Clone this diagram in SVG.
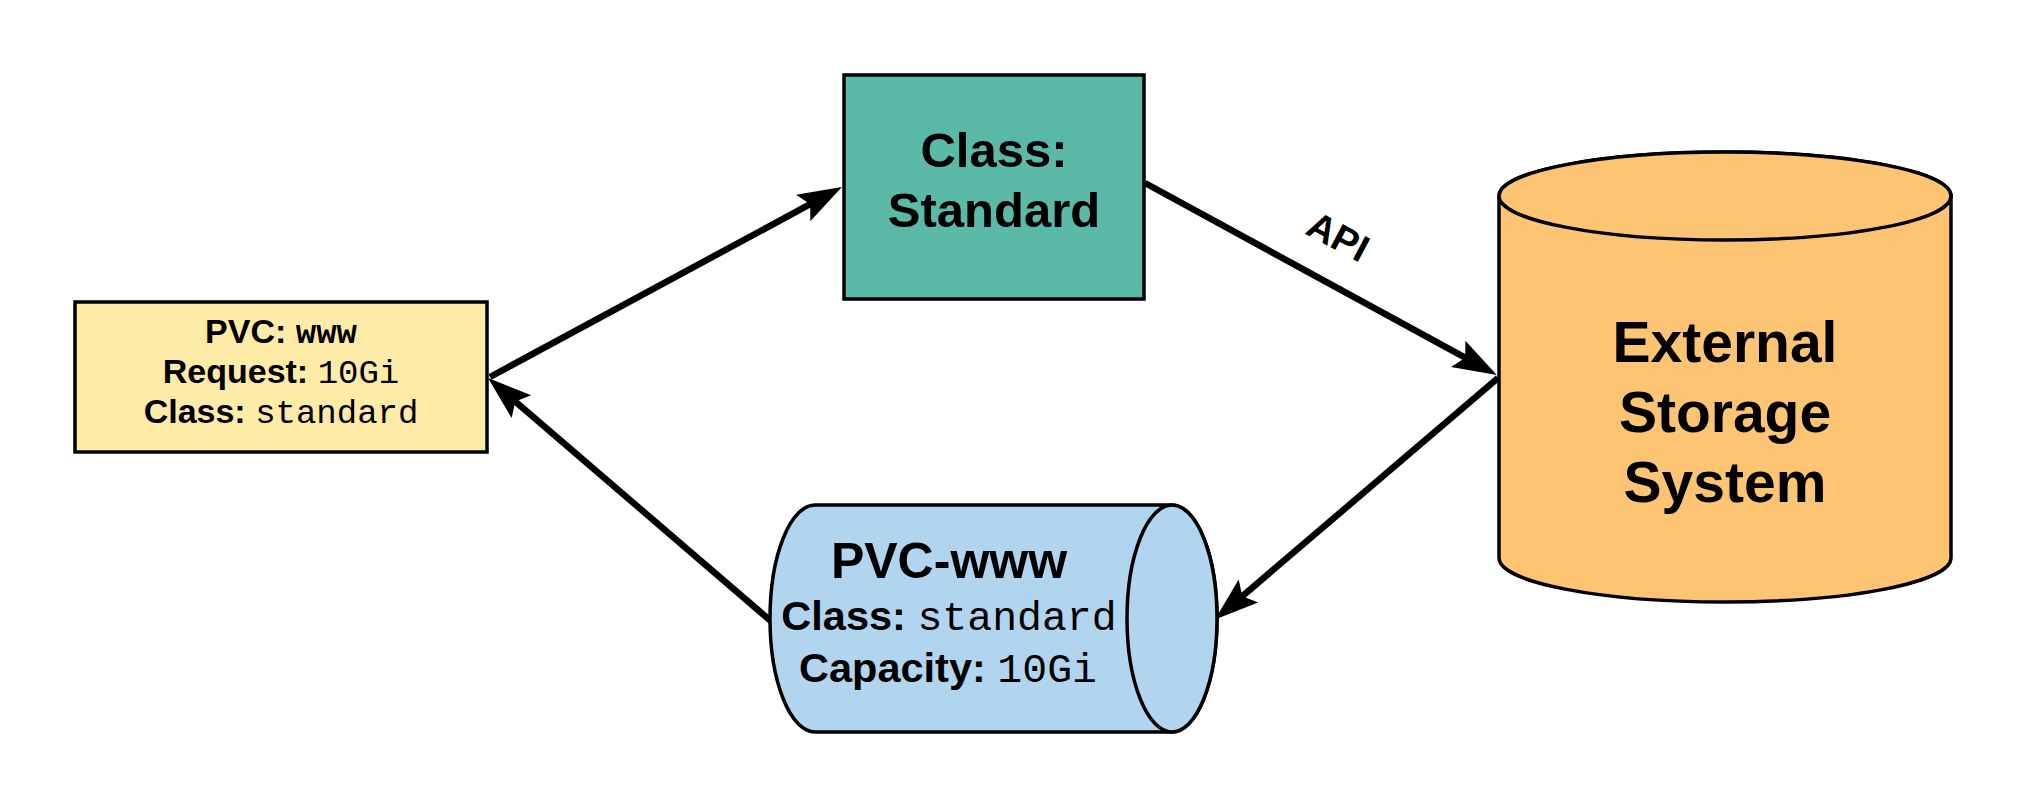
<svg xmlns="http://www.w3.org/2000/svg" width="2025" height="806" viewBox="0 0 2025 806">
  <style>
    .sans { font-family: "Liberation Sans", Arial, sans-serif; font-weight: bold; fill: #000; }
    .mono { font-family: "Liberation Mono", "Courier New", monospace; font-weight: normal; }
    .monob { font-family: "Liberation Mono", "Courier New", monospace; font-weight: bold; }
    .edge { stroke: #000; stroke-width: 6.5; fill: none; marker-end: url(#arrow); }
    .shape { stroke: #000; stroke-width: 3.5; }
  </style>
  <defs>
    <marker id="arrow" markerUnits="userSpaceOnUse" markerWidth="52" markerHeight="34" viewBox="0 0 52 34" refX="12" refY="17" orient="auto">
      <path d="M2,2 L46,17 L2,32 L10,17 Z" fill="#000"/>
    </marker>
  </defs>
  <rect width="2025" height="806" fill="#fff"/>

  <g id="connectors">
    <line class="edge" x1="490" y1="377" x2="812" y2="203.2"/>
    <line class="edge" x1="772" y1="622" x2="513.8" y2="400.2"/>
    <line class="edge" x1="1145" y1="183" x2="1467" y2="358.7"/>
    <line class="edge" x1="1498" y1="378" x2="1240.8" y2="597.5"/>
    <text class="sans" font-size="38" text-anchor="middle" transform="translate(1332 248) rotate(28)">API</text>
  </g>

  <g id="pvc-request">
    <rect class="shape" x="75" y="302" width="412" height="150" fill="#FFEBA8"/>
    <text class="sans" font-size="34" text-anchor="middle" x="281" y="343">PVC: <tspan class="monob">www</tspan></text>
    <text class="sans" font-size="34" text-anchor="middle" x="281" y="383">Request: <tspan class="mono">10Gi</tspan></text>
    <text class="sans" font-size="34" text-anchor="middle" x="281" y="423">Class: <tspan class="mono">standard</tspan></text>
  </g>

  <g id="storage-class">
    <rect class="shape" x="844" y="75" width="300" height="224" fill="#5BB9A7"/>
    <text class="sans" font-size="49" text-anchor="middle" x="994" y="167">Class:</text>
    <text class="sans" font-size="49" text-anchor="middle" x="994" y="227">Standard</text>
  </g>

  <g id="external-storage">
    <path class="shape" fill="#FDC474" d="M1499,196 L1499,558 A226,44 0 0 0 1951,558 L1951,196 A226,44 0 0 0 1499,196 Z"/>
    <ellipse class="shape" fill="#FDC474" cx="1725" cy="196" rx="226" ry="44"/>
    <text class="sans" font-size="57" text-anchor="middle" x="1725" y="362">External</text>
    <text class="sans" font-size="57" text-anchor="middle" x="1725" y="432">Storage</text>
    <text class="sans" font-size="57" text-anchor="middle" x="1725" y="502">System</text>
  </g>

  <g id="pvc-volume">
    <path class="shape" fill="#B2D5EF" d="M815,505 L1172,505 A45,113.5 0 0 1 1172,732 L815,732 A45,113.5 0 0 1 815,505 Z"/>
    <ellipse class="shape" fill="#B2D5EF" cx="1172" cy="618.5" rx="45" ry="113.5"/>
    <text class="sans" font-size="50" text-anchor="middle" x="949" y="578">PVC-www</text>
    <text class="sans" font-size="41.5" text-anchor="middle" x="949" y="630">Class: <tspan class="mono">standard</tspan></text>
    <text class="sans" font-size="41.5" text-anchor="middle" x="948" y="682">Capacity: <tspan class="mono">10Gi</tspan></text>
  </g>
</svg>
